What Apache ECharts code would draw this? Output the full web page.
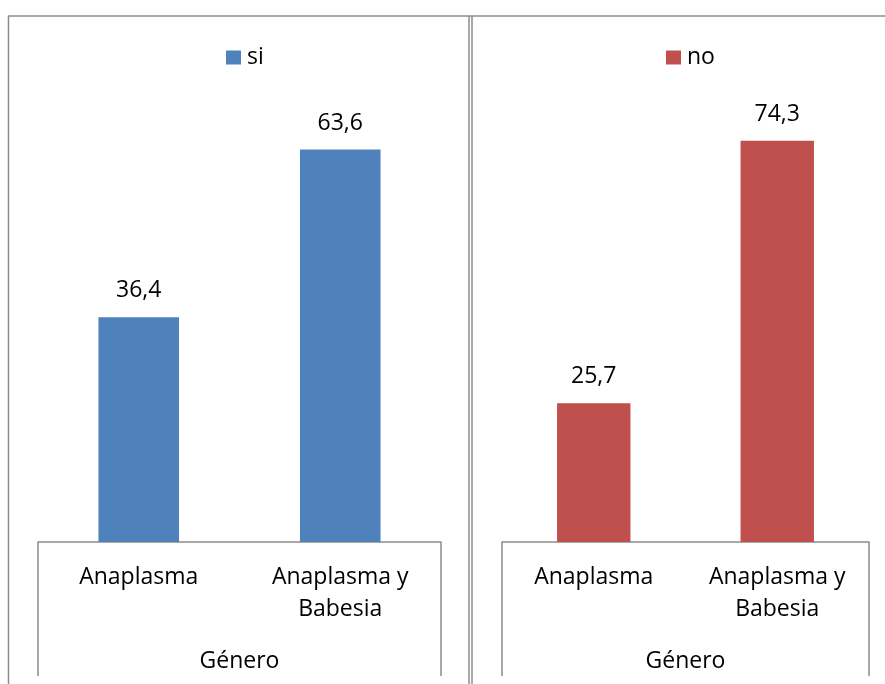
<!DOCTYPE html>
<html>
<head>
<meta charset="utf-8">
<script src="https://cdn.jsdelivr.net/npm/echarts@6/dist/echarts.min.js"></script>
<style>
  html, body { margin: 0; padding: 0; background: #fff; }
  #chart { width: 885px; height: 684px; }
</style>
</head>
<body>
<div id="chart"></div>
<script>
// Categories shared by both panels
const categories = ['Anaplasma', 'Anaplasma y\nBabesia'];
const axisTitle = 'Género';

// Percentages per panel
const siValues = [36.4, 63.6];
const noValues = [25.7, 74.3];

const FONT = '"Open Sans", "Noto Sans", sans-serif';
const FS = 23;
const LINE = '#8c8c8c';
const BLUE = '#4F81BD';
const RED = '#C0504D';

// Panel geometry (plot areas)
const gridL = { left: 38, width: 403, top: 110, height: 432 };
const gridR = { left: 502, width: 367, top: 110, height: 432 };
const boxDepth = 134; // how far the category box reaches below the axis

const fmt = p => p.value.toFixed(1).replace('.', ',');

function xAxisFor(gridIndex) {
  return {
    type: 'category',
    gridIndex,
    data: categories,
    axisLine: { show: true, lineStyle: { color: LINE, width: 1.5 } },
    axisTick: { show: false },
    axisLabel: {
      color: '#000', fontFamily: FONT, fontSize: FS, lineHeight: 32,
      margin: 19, interval: 0
    },
    name: axisTitle,
    nameLocation: 'middle',
    nameGap: 104,
    nameTextStyle: { color: '#000', fontFamily: FONT, fontSize: FS, lineHeight: 30 }
  };
}

function yAxisFor(gridIndex, max) {
  return {
    type: 'value', gridIndex, min: 0, max,
    show: false, splitLine: { show: false }
  };
}

function barSeries(name, values, idx, color) {
  return {
    name, type: 'bar', xAxisIndex: idx, yAxisIndex: idx,
    data: values, barWidth: '40%',
    itemStyle: { color },
    label: {
      show: true, position: 'top', distance: 15, formatter: fmt,
      color: '#000', fontFamily: FONT, fontSize: FS
    }
  };
}

// Frame lines around panels and the category boxes below each axis
function vline(x, y1, y2) {
  return { type: 'line', shape: { x1: x, y1, x2: x, y2 },
           style: { stroke: LINE, lineWidth: 1.5 }, silent: true };
}
function hline(y, x1, x2) {
  return { type: 'line', shape: { x1, y1: y, x2, y2: y },
           style: { stroke: LINE, lineWidth: 1.5 }, silent: true };
}
const baseL = gridL.top + gridL.height;
const baseR = gridR.top + gridR.height;
const frame = [
  hline(16, 8, 885),
  vline(8.5, 16, 684),
  vline(469, 16, 684),
  vline(472, 16, 684),
  vline(gridL.left, baseL, baseL + boxDepth),
  vline(gridL.left + gridL.width, baseL, baseL + boxDepth),
  vline(gridR.left, baseR, baseR + boxDepth),
  vline(gridR.left + gridR.width, baseR, baseR + boxDepth)
];

const legendBase = {
  icon: 'rect', itemWidth: 15, itemHeight: 14, itemGap: 5, padding: 0, top: 46,
  textStyle: { color: '#000', fontFamily: FONT, fontSize: FS, padding: [0, 0, 0, 1] }
};

const chart = echarts.init(document.getElementById('chart'), null, { renderer: 'canvas' });
chart.setOption({
  animation: false,
  backgroundColor: '#fff',
  grid: [
    { left: gridL.left, width: gridL.width, top: gridL.top, height: gridL.height },
    { left: gridR.left, width: gridR.width, top: gridR.top, height: gridR.height }
  ],
  legend: [
    Object.assign({ data: ['si'], left: 226 }, legendBase),
    Object.assign({ data: ['no'], left: 666 }, legendBase)
  ],
  xAxis: [xAxisFor(0), xAxisFor(1)],
  yAxis: [yAxisFor(0, 70), yAxisFor(1, 80)],
  series: [
    barSeries('si', siValues, 0, BLUE),
    barSeries('no', noValues, 1, RED)
  ],
  graphic: frame
});
</script>
</body>
</html>
